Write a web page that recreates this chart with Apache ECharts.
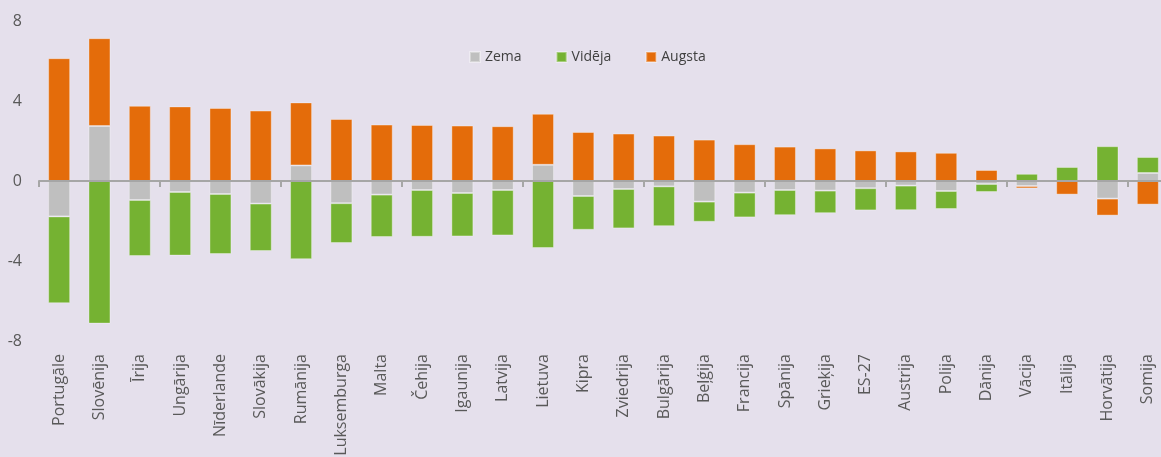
<!DOCTYPE html>
<html>
<head>
<meta charset="utf-8">
<script src="https://cdn.jsdelivr.net/npm/echarts@6/dist/echarts.min.js"></script>
<style>
  html, body { margin: 0; padding: 0; background: #E5E0EC; }
  #chart { width: 1161px; height: 457px; }
</style>
</head>
<body>
<div id="chart"></div>
<script>
// valstis
var categories = ['Portugāle', 'Slovēnija', 'Īrija', 'Ungārija', 'Nīderlande', 'Slovākija',
  'Rumānija', 'Luksemburga', 'Malta', 'Čehija', 'Igaunija', 'Latvija', 'Lietuva', 'Kipra',
  'Zviedrija', 'Bulgārija', 'Beļģija', 'Francija', 'Spānija', 'Grieķija', 'ES-27', 'Austrija',
  'Polija', 'Dānija', 'Vācija', 'Itālija', 'Horvātija', 'Somija']

var zema = [-1.77, 2.75, -0.95, -0.55, -0.65, -1.13, 0.78, -1.11, -0.68, -0.45, -0.6, -0.45,
  0.81, -0.75, -0.4, -0.27, -1.03, -0.58, -0.45, -0.48, -0.36, -0.23, -0.5, -0.15, -0.25, 0,
  -0.88, 0.4]
var videja = [-4.34, -7.13, -2.8, -3.18, -3.0, -2.37, -3.91, -1.99, -2.12, -2.34, -2.17, -2.27,
  -3.35, -1.69, -1.97, -1.99, -1.01, -1.24, -1.26, -1.13, -1.11, -1.23, -0.9, -0.4, 0.36, 0.7,
  1.74, 0.8]
var augsta = [6.14, 4.39, 3.76, 3.73, 3.65, 3.52, 3.15, 3.1, 2.82, 2.8, 2.77, 2.74, 2.55, 2.45,
  2.37, 2.27, 2.07, 1.84, 1.72, 1.63, 1.53, 1.48, 1.41, 0.55, -0.12, -0.68, -0.85, -1.18]

var yTicks = { min: -8, max: 8, interval: 4 }

var textColor = '#595959'
var fontFamily = '"Open Sans", "Noto Sans", sans-serif'

function barSeries (name, data, color) {
  return {
    name: name,
    type: 'bar',
    stack: 'total',
    data: data,
    barWidth: 22,
    itemStyle: {
      color: color,
      borderColor: 'rgba(255,255,255,0.35)',
      borderWidth: 1
    }
  }
}

var chart = echarts.init(document.getElementById('chart'))

chart.setOption({
  backgroundColor: '#E5E0EC',
  animation: false,
  textStyle: { fontFamily: fontFamily },
  legend: {
    top: 45,
    left: 464,
    itemWidth: 10,
    itemHeight: 10,
    itemGap: 34,
    icon: 'rect',
    textStyle: { color: '#404040', fontSize: 14, fontFamily: fontFamily },
    data: ['Zema', 'Vidēja', 'Augsta']
  },
  grid: {
    left: 39,
    width: 1129,
    top: 21,
    height: 320,
    containLabel: false,
    outerBoundsMode: 'none'
  },
  xAxis: [
    {
      type: 'category',
      data: categories,
      axisLine: { onZero: true, lineStyle: { color: '#A6A6A6', width: 2 } },
      axisTick: { show: true, length: 6, lineStyle: { color: '#A6A6A6', width: 2 } },
      axisLabel: { show: false },
      z: 10
    },
    {
      type: 'category',
      data: categories,
      position: 'bottom',
      axisLine: { show: false, onZero: false },
      axisTick: { show: false },
      axisLabel: {
        rotate: 90,
        margin: 13,
        color: textColor,
        fontSize: 16,
        fontFamily: fontFamily,
        interval: 0
      }
    }
  ],
  yAxis: {
    type: 'value',
    min: yTicks.min,
    max: yTicks.max,
    interval: yTicks.interval,
    axisLine: { show: false },
    axisTick: { show: false },
    splitLine: { show: false },
    axisLabel: { color: textColor, fontSize: 16, fontFamily: fontFamily, margin: 17 }
  },
  series: [
    barSeries('Zema', zema, '#BFBFBF'),
    barSeries('Vidēja', videja, '#75B232'),
    barSeries('Augsta', augsta, '#E46C0A')
  ]
})
</script>
</body>
</html>
